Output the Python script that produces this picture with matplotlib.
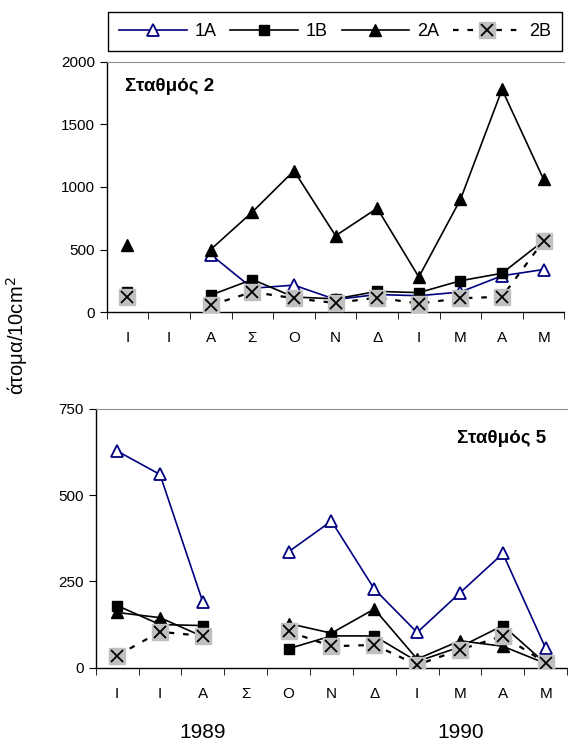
import numpy as np
import matplotlib.pyplot as plt
from matplotlib.lines import Line2D

plt.rcParams['font.family'] = ['Liberation Sans', 'DejaVu Sans']
plt.rcParams['font.size'] = 11

nan = np.nan
months = ['Ι', 'Ι', 'Α', 'Σ', 'Ο', 'Ν', 'Δ', 'Ι', 'Μ', 'Α', 'Μ']

# station 2
st2_1A = [130, nan, 460, 190, 215, 100, 140, 130, 160, 290, 340]
st2_1B = [160, nan, 135, 260, 120, 105, 165, 155, 250, 310, 570]
st2_2A = [540, nan, 500, 800, 1130, 610, 830, 280, 900, 1780, 1060]
st2_2B = [120, nan, 55, 160, 110, 72, 115, 68, 110, 122, 570]

# station 5
st5_1A = [628, 560, 190, nan, 336, 425, 228, 102, 217, 331, 56]
st5_1B = [180, 125, 122, nan, 55, 92, 92, 18, 60, 122, 12]
st5_2A = [160, 145, 90, nan, 128, 100, 170, 25, 78, 62, 12]
st5_2B = [35, 104, 92, nan, 105, 62, 66, 8, 52, 92, 14]

navy = '#000080'
grey = '#c0c0c0'


def draw(ax, a1, b1, a2, b2):
    x = np.arange(len(months))
    ax.plot(x, a1, color=navy, lw=1.2, marker='^', ms=8, mfc='white',
            mec=navy, mew=1.3, zorder=3)
    ax.plot(x, b1, color='black', lw=1.2, marker='s', ms=7, zorder=4)
    ax.plot(x, a2, color='black', lw=1.2, marker='^', ms=8, zorder=5)
    ax.plot(x, b2, color='black', lw=1.6, ls=(0, (2.5, 4)), zorder=6)
    ax.plot(x, b2, ls='none', marker='s', ms=12, mfc=grey, mec=grey, zorder=7)
    ax.plot(x, b2, ls='none', marker='x', ms=9, mew=1.3, color='black', zorder=8)
    ax.set_xlim(-0.5, 10.5)
    ax.set_xticks(x)
    ax.set_xticklabels(months)
    ax.set_xticks(np.arange(-0.5, 11, 1), minor=True)
    ax.tick_params(axis='x', which='major', length=0, pad=14)
    ax.tick_params(axis='x', which='minor', length=5, direction='out')
    ax.tick_params(axis='y', length=5, direction='out')
    ax.spines['right'].set_visible(False)
    ax.spines['top'].set_color('#909090')
    for s in ('left', 'bottom'):
        ax.spines[s].set_linewidth(1.0)


fig = plt.figure(figsize=(5.68, 7.45), dpi=100)

ax1 = fig.add_axes([0.1878, 0.5812, 0.806, 0.3356])
draw(ax1, st2_1A, st2_1B, st2_2A, st2_2B)
ax1.set_ylim(0, 2000)
ax1.set_yticks([0, 500, 1000, 1500, 2000])
ax1.text(0.04, 0.90, 'Σταθμός 2', transform=ax1.transAxes, fontweight='bold',
         fontsize=13.5, va='center', ha='left')

ax2 = fig.add_axes([0.1685, 0.1038, 0.830, 0.3473])
draw(ax2, st5_1A, st5_1B, st5_2A, st5_2B)
ax2.set_ylim(0, 750)
ax2.set_yticks([0, 250, 500, 750])
ax2.text(0.955, 0.885, 'Σταθμός 5', transform=ax2.transAxes, fontweight='bold',
         fontsize=13.5, va='center', ha='right')

fig.text(203 / 568, 1 - 733 / 745, '1989', ha='center', va='center', fontsize=15)
fig.text(461 / 568, 1 - 733 / 745, '1990', ha='center', va='center', fontsize=15)
fig.text(17 / 568, 1 - 336 / 745, 'άτομα/10cm$^2$', rotation=90,
         ha='center', va='center', fontsize=14.5)

h1 = Line2D([], [], color=navy, lw=1.2, marker='^', ms=8, mfc='white', mec=navy, mew=1.3)
h2 = Line2D([], [], color='black', lw=1.2, marker='s', ms=7)
h3 = Line2D([], [], color='black', lw=1.2, marker='^', ms=8)
h4a = Line2D([], [], color='black', lw=1.6, ls=(0, (2.5, 4)))
h4b = Line2D([], [], ls='none', marker='s', ms=12, mfc=grey, mec=grey)
h4c = Line2D([], [], ls='none', marker='x', ms=9, mew=1.3, color='black')
leg = fig.legend([h1, h2, h3, (h4a, h4b, h4c)], ['1A', '1B', '2A', '2B'],
                 loc='upper left', bbox_to_anchor=(108 / 568, 1 - 12 / 745),
                 ncol=4, fontsize=13, handlelength=3.75, handletextpad=0.45,
                 columnspacing=0.75, borderpad=0.6, borderaxespad=0,
                 fancybox=False, edgecolor='black', framealpha=1)
leg.get_frame().set_linewidth(1.0)

fig.savefig('out.png', dpi=100)
